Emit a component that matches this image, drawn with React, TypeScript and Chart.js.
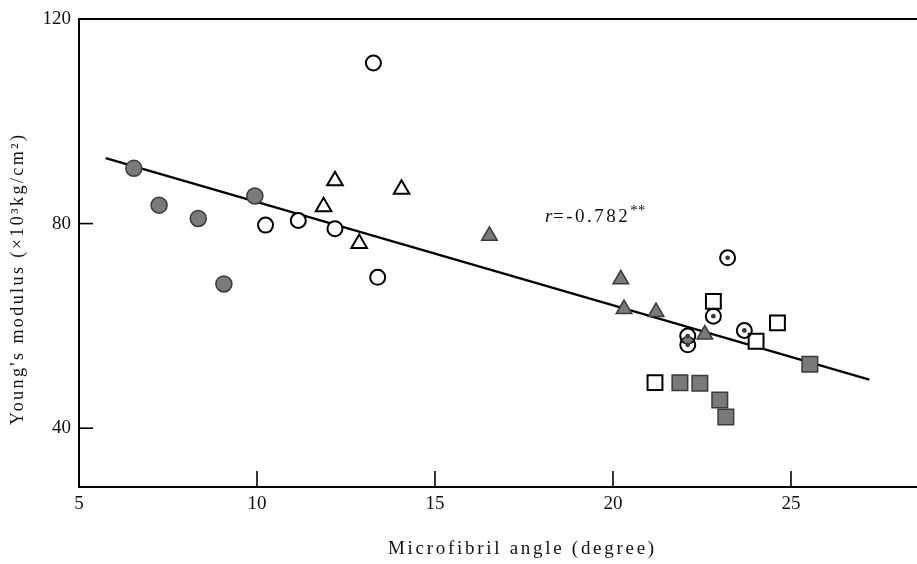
import React, { useEffect, useRef } from "react";
import { Chart, registerables } from "chart.js";

Chart.register(...registerables);

// Microfibril angle (degree) vs Young's modulus (x10^3 kg/cm^2), grouped by marker type
const filledCircleX = [6.54, 7.25, 8.35, 9.07, 9.94];
const filledCircleY = [90.8, 83.6, 81.0, 68.2, 85.4];

const openCircleX = [10.24, 11.16, 12.19, 13.27, 13.39];
const openCircleY = [79.7, 80.6, 79.0, 111.4, 69.5];

const openTriangleX = [11.87, 12.19, 12.87, 14.06];
const openTriangleY = [83.3, 88.4, 76.1, 86.7];

const filledTriangleX = [16.53, 20.22, 20.31, 21.21, 22.58];
const filledTriangleY = [77.6, 69.1, 63.3, 62.7, 58.3];

const dotCircleX = [22.1, 22.1, 22.82, 23.22, 23.69];
const dotCircleY = [58.0, 56.3, 61.9, 73.3, 59.1];

const diamondX = [22.1];
const diamondY = [57.2];

const openSquareX = [21.18, 22.82, 24.02, 24.62];
const openSquareY = [48.9, 64.8, 57.0, 60.6];

const filledSquareX = [21.88, 22.44, 23.0, 23.17, 25.53];
const filledSquareY = [48.9, 48.8, 45.5, 42.2, 52.5];

// regression line end points
const fitX = [5.75, 27.2];
const fitY = [92.8, 49.5];

const xTicks = [5, 10, 15, 20, 25];
const yTicks = [40, 80, 120];

const corrLabel = "=-0.782";
const corrStars = "**";
const corrAnchor = { x: 18.09, y: 80.4 };

const xTitle = "Microfibril angle (degree)";
const yTitle = "Young's modulus (×10³kg/cm²)";

const SERIF = '"Liberation Serif", "DejaVu Serif", serif';
const GRAY = "#7a7a7a";
const DARK = "#3a3a3a";

const pts = (xs: number[], ys: number[]) => xs.map((x, i) => ({ x, y: ys[i] }));

function drawSpaced(ctx: CanvasRenderingContext2D, text: string, cx: number, cy: number, width: number) {
  ctx.letterSpacing = "0px";
  const w = ctx.measureText(text).width;
  const sp = Math.max(0, (width - w) / Math.max(1, text.length - 1));
  ctx.letterSpacing = sp.toFixed(2) + "px";
  ctx.textAlign = "left";
  ctx.fillText(text, cx - width / 2, cy);
  ctx.letterSpacing = "0px";
}

const framePlugin = {
  id: "frameAndText",
  afterDraw(chart: any) {
    const { ctx, chartArea, scales } = chart;
    const xs = scales.x;
    const ys = scales.y;
    ctx.save();
    ctx.strokeStyle = "#000";
    ctx.lineWidth = 2;
    // top frame line
    ctx.beginPath();
    ctx.moveTo(chartArea.left - 1, chartArea.top);
    ctx.lineTo(chartArea.right, chartArea.top);
    ctx.stroke();
    // inward tick marks
    ctx.lineWidth = 1.6;
    for (const v of yTicks) {
      if (v >= ys.max) continue;
      const py = ys.getPixelForValue(v);
      ctx.beginPath();
      ctx.moveTo(chartArea.left, py);
      ctx.lineTo(chartArea.left + 14, py);
      ctx.stroke();
    }
    for (const v of xTicks) {
      if (v <= xs.min) continue;
      const px = xs.getPixelForValue(v);
      ctx.beginPath();
      ctx.moveTo(px, chartArea.bottom);
      ctx.lineTo(px, chartArea.bottom - 16);
      ctx.stroke();
    }

    // axis titles
    ctx.fillStyle = "#111";
    ctx.textBaseline = "middle";
    ctx.font = "19px " + SERIF;
    drawSpaced(ctx, xTitle, 521, 549, 266);

    ctx.save();
    ctx.translate(18, 280);
    ctx.rotate(-Math.PI / 2);
    ctx.font = "18px " + SERIF;
    drawSpaced(ctx, yTitle, 0, 0, 290);
    ctx.restore();

    // correlation annotation
    const ax = xs.getPixelForValue(corrAnchor.x);
    const ay = ys.getPixelForValue(corrAnchor.y);
    ctx.textBaseline = "alphabetic";
    ctx.textAlign = "left";
    ctx.font = "italic 19px " + SERIF;
    ctx.fillText("r", ax, ay);
    ctx.font = "19px " + SERIF;
    ctx.letterSpacing = "2.5px";
    ctx.fillText(corrLabel, ax + 8, ay);
    const w = ctx.measureText(corrLabel).width;
    ctx.font = "15px " + SERIF;
    ctx.letterSpacing = "0px";
    ctx.fillText(corrStars, ax + 8 + w, ay - 7);
    ctx.restore();
  },
};

export default function App() {
  const ref = useRef<HTMLCanvasElement | null>(null);

  useEffect(() => {
    if (!ref.current) return;
    const chart = new Chart(ref.current, {
      type: "scatter",
      data: {
        datasets: [
          {
            label: "dots",
            data: pts(dotCircleX, dotCircleY),
            pointStyle: "circle",
            pointRadius: 2.4,
            backgroundColor: DARK,
            borderColor: DARK,
            borderWidth: 0,
            order: 0,
          },
          {
            label: "diamond",
            data: pts(diamondX, diamondY),
            pointStyle: "rectRot",
            pointRadius: 5.5,
            backgroundColor: GRAY,
            borderColor: DARK,
            borderWidth: 1,
            order: 1,
          },
          {
            label: "dot circles",
            data: pts(dotCircleX, dotCircleY),
            pointStyle: "circle",
            pointRadius: 7.5,
            backgroundColor: "rgba(255,255,255,0)",
            borderColor: "#000",
            borderWidth: 2,
            order: 2,
          },
          {
            label: "filled triangles",
            data: pts(filledTriangleX, filledTriangleY),
            pointStyle: "triangle",
            pointRadius: 9,
            backgroundColor: GRAY,
            borderColor: DARK,
            borderWidth: 1.5,
            order: 3,
          },
          {
            label: "open squares",
            data: pts(openSquareX, openSquareY),
            pointStyle: "rect",
            pointRadius: 10.5,
            backgroundColor: "#fff",
            borderColor: "#000",
            borderWidth: 2,
            order: 4,
          },
          {
            label: "filled squares",
            data: pts(filledSquareX, filledSquareY),
            pointStyle: "rect",
            pointRadius: 11,
            backgroundColor: GRAY,
            borderColor: DARK,
            borderWidth: 1.5,
            order: 5,
          },
          {
            label: "filled circles",
            data: pts(filledCircleX, filledCircleY),
            pointStyle: "circle",
            pointRadius: 8,
            backgroundColor: GRAY,
            borderColor: DARK,
            borderWidth: 1.5,
            order: 6,
          },
          {
            label: "open circles",
            data: pts(openCircleX, openCircleY),
            pointStyle: "circle",
            pointRadius: 7.5,
            backgroundColor: "#fff",
            borderColor: "#000",
            borderWidth: 2,
            order: 7,
          },
          {
            label: "open triangles",
            data: pts(openTriangleX, openTriangleY),
            pointStyle: "triangle",
            pointRadius: 9,
            backgroundColor: "#fff",
            borderColor: "#000",
            borderWidth: 2,
            order: 8,
          },
          {
            type: "line",
            label: "fit",
            data: pts(fitX, fitY),
            borderColor: "#000",
            borderWidth: 2.2,
            pointRadius: 0,
            fill: false,
            order: 100,
          } as any,
        ],
      },
      options: {
        responsive: false,
        animation: false,
        layout: { autoPadding: false, padding: { top: 19, right: 0, left: 0, bottom: 0 } },
        plugins: {
          legend: { display: false },
          tooltip: { enabled: false },
        },
        scales: {
          x: {
            type: "linear",
            min: 5,
            max: 28.54,
            grid: { display: false, drawTicks: false },
            border: { display: true, color: "#000", width: 2 },
            afterBuildTicks: (s: any) => {
              s.ticks = xTicks.map((v) => ({ value: v }));
            },
            afterFit: (s: any) => {
              s.height = 77;
              s.paddingLeft = 0;
              s.paddingRight = 0;
            },
            ticks: {
              color: "#111",
              padding: 6,
              font: { family: SERIF, size: 19 },
              maxRotation: 0,
              autoSkip: false,
            },
          },
          y: {
            type: "linear",
            min: 28.5,
            max: 120,
            grid: { display: false, drawTicks: false },
            border: { display: true, color: "#000", width: 2 },
            afterBuildTicks: (s: any) => {
              s.ticks = yTicks.map((v) => ({ value: v }));
            },
            afterFit: (s: any) => {
              s.width = 79;
              s.paddingTop = 0;
              s.paddingBottom = 0;
            },
            ticks: {
              color: "#111",
              padding: 8,
              font: { family: SERIF, size: 19 },
              autoSkip: false,
            },
          },
        },
      },
      plugins: [framePlugin],
    });
    return () => chart.destroy();
  }, []);

  return (
    <div style={{ position: "absolute", left: 0, top: 0, width: 917, height: 564, background: "#fff" }}>
      <canvas ref={ref} width={917} height={564} style={{ display: "block" }} />
    </div>
  );
}
